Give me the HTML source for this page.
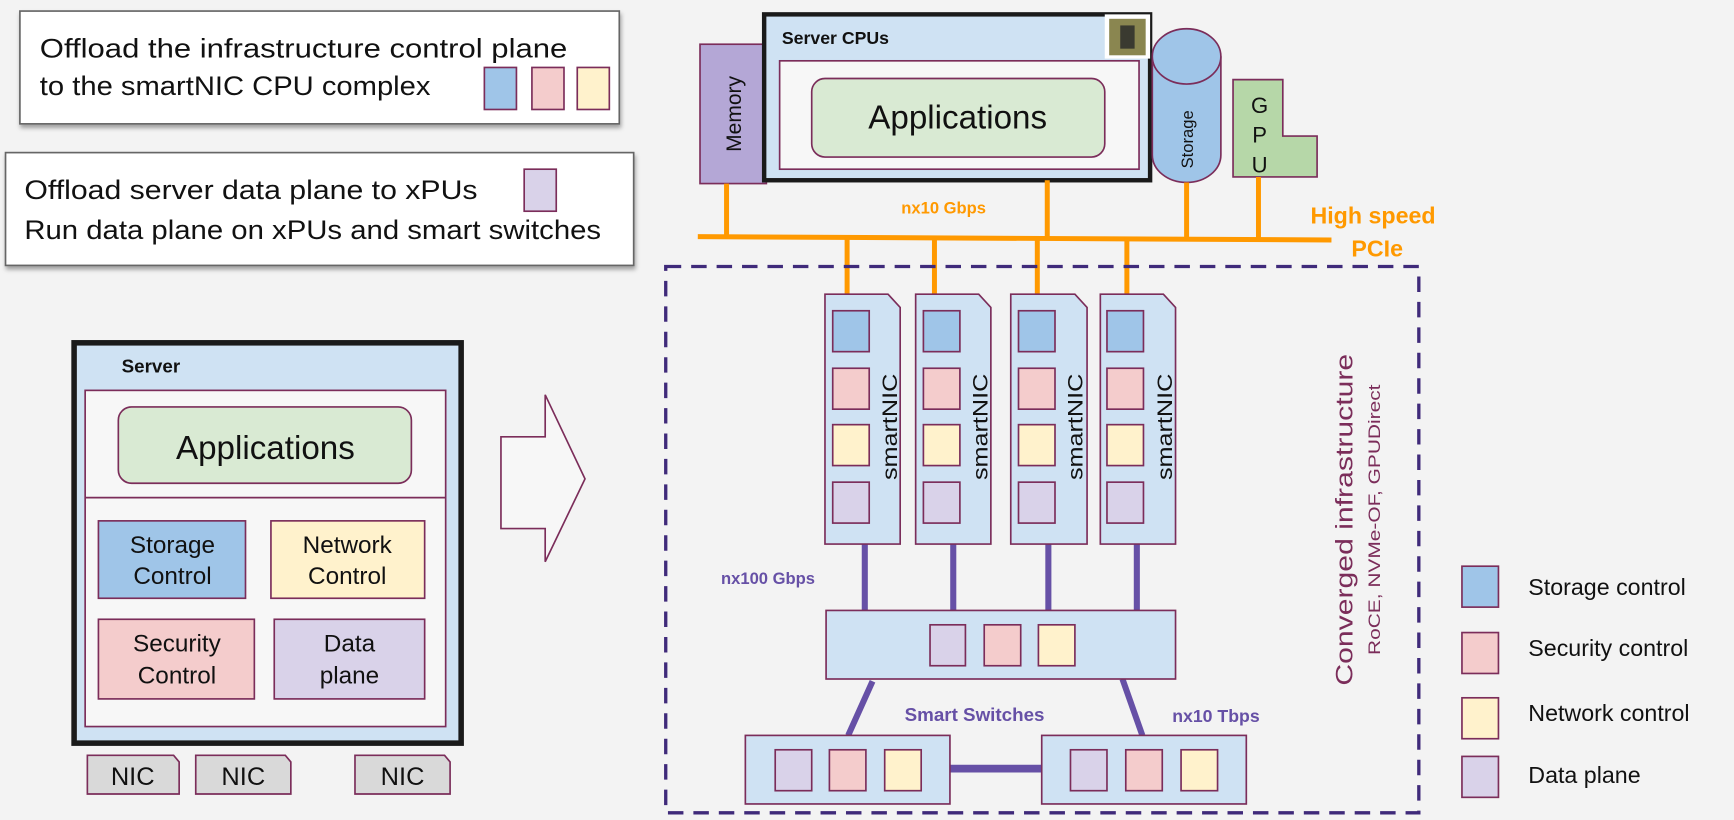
<!DOCTYPE html>
<html><head><meta charset="utf-8"><style>
html,body{margin:0;padding:0;background:#f3f3f3;}
svg{display:block;font-family:"Liberation Sans","DejaVu Sans",sans-serif;}
</style></head><body>
<svg width="1734" height="820" viewBox="0 0 1568 741.5" xmlns="http://www.w3.org/2000/svg">
<defs>
<filter id="sh" x="-5%" y="-5%" width="110%" height="120%"><feDropShadow dx="1" dy="3" stdDeviation="2" flood-color="#000" flood-opacity="0.35"/></filter>
</defs>
<rect width="1568" height="741.5" fill="#f3f3f3"/>
<g stroke="#7b2d5a" stroke-width="1.5">
<rect x="18" y="10" width="542" height="102" fill="#fff" stroke="#666" filter="url(#sh)"/>
<rect x="5" y="138" width="568" height="102" fill="#fff" stroke="#666" filter="url(#sh)"/>
<rect x="438" y="61" width="29" height="38" fill="#9fc5e8"/>
<rect x="481" y="61" width="29" height="38" fill="#f4cccc"/>
<rect x="522" y="61" width="29" height="38" fill="#fff2cc"/>
<rect x="474" y="153" width="29" height="38" fill="#d9d2e9"/>
</g>
<g font-size="24" fill="#111">
<text transform="translate(36,52) scale(1.17,1)">Offload the infrastructure control plane</text>
<text transform="translate(36,86) scale(1.1,1)">to the smartNIC CPU complex</text>
<text transform="translate(22,180) scale(1.14,1)">Offload server data plane to xPUs</text>
<text transform="translate(22,216) scale(1.105,1)">Run data plane on xPUs and smart switches</text>
</g>

<rect x="67" y="310" width="350" height="362" fill="#cfe2f3" stroke="#1a1a1a" stroke-width="5"/>
<text x="110" y="337" font-size="17" font-weight="bold" fill="#111">Server</text>
<g stroke="#7b2d5a" stroke-width="1.5">
<rect x="77" y="353" width="326" height="304" fill="#f7f7f7"/>
<line x1="77" y1="450" x2="403" y2="450"/>
<rect x="107" y="368" width="265" height="69" rx="12" fill="#d9ead3"/>
<rect x="89" y="471" width="133" height="70" fill="#9fc5e8"/>
<rect x="245" y="471" width="139" height="70" fill="#fff2cc"/>
<rect x="89" y="560" width="141" height="72" fill="#f4cccc"/>
<rect x="248" y="560" width="136" height="72" fill="#d9d2e9"/>
<path d="M79 683 H157 L162 689 V718 H79 Z" fill="#d9d9d9"/>
<path d="M177 683 H258 L263 689 V718 H177 Z" fill="#d9d9d9"/>
<path d="M321 683 H402 L407 689 V718 H321 Z" fill="#d9d9d9"/>
<path d="M453 395 H493 V357 L529 433 L493 508 V478 H453 Z" fill="#f7f7f7"/>
</g>
<g fill="#111" text-anchor="middle">
<text x="240" y="415" font-size="30">Applications</text>
<text x="156" y="500" font-size="22">Storage</text><text x="156" y="528" font-size="22">Control</text>
<text x="314" y="500" font-size="22">Network</text><text x="314" y="528" font-size="22">Control</text>
<text x="160" y="589" font-size="22">Security</text><text x="160" y="618" font-size="22">Control</text>
<text x="316" y="589" font-size="22">Data</text><text x="316" y="618" font-size="22">plane</text>
<text x="120" y="710" font-size="23">NIC</text>
<text x="220" y="710" font-size="23">NIC</text>
<text x="364" y="710" font-size="23">NIC</text>
</g>

<g stroke="#7b2d5a" stroke-width="1.5">
<rect x="633" y="40" width="60" height="126" fill="#b4a7d6"/>
</g>
<rect x="691" y="13" width="349" height="150" fill="#cfe2f3" stroke="#1a1a1a" stroke-width="4"/>
<text x="707" y="40" font-size="16" font-weight="bold" fill="#111">Server CPUs</text>
<rect x="705" y="55" width="325" height="98" fill="#f7f7f7" stroke="#7b2d5a" stroke-width="1.5"/>
<rect x="999" y="13" width="41" height="40" fill="#fff"/>
<rect x="1003" y="17" width="33" height="33" fill="#8a8650"/>
<rect x="1013" y="23" width="13" height="21" fill="#3a3a30"/>
<rect x="734" y="71" width="265" height="71" rx="12" fill="#d9ead3" stroke="#7b2d5a" stroke-width="1.5"/>
<text x="866" y="116" font-size="30" text-anchor="middle" fill="#111">Applications</text>
<text transform="translate(670,103) rotate(-90)" font-size="19" text-anchor="middle" fill="#111">Memory</text>
<g stroke="#7b2d5a" stroke-width="1.5">
<path d="M1042 51 V140 A31 25 0 0 0 1104 140 V51" fill="#9fc5e8"/>
<ellipse cx="1073" cy="51" rx="31" ry="25" fill="#9fc5e8"/>
<path d="M1115 72 H1160 V123 H1191 V160 H1115 Z" fill="#b6d7a8"/>
</g>
<text transform="translate(1079,126) rotate(-90)" font-size="15" text-anchor="middle" fill="#111">Storage</text>
<g font-size="20" text-anchor="middle" fill="#111">
<text x="1139" y="102">G</text><text x="1139" y="129">P</text><text x="1139" y="156">U</text>
</g>

<g stroke="#ff9900" stroke-width="4.5">
<line x1="631" y1="214" x2="1204" y2="217"/>
<line x1="657" y1="166" x2="657" y2="214"/>
<line x1="947" y1="163" x2="947" y2="215"/>
<line x1="1073" y1="165" x2="1073" y2="216"/>
<line x1="1138" y1="160" x2="1138" y2="216"/>
<line x1="766" y1="214" x2="766" y2="268"/>
<line x1="845" y1="215" x2="845" y2="268"/>
<line x1="938" y1="215" x2="938" y2="268"/>
<line x1="1019" y1="216" x2="1019" y2="268"/>
</g>
<g fill="#ff9900" font-weight="bold">
<text x="815" y="193" font-size="15">nx10 Gbps</text>
<text x="1185" y="202" font-size="21">High speed</text>
<text x="1222" y="232" font-size="21">PCIe</text>
</g>

<rect x="602" y="241" width="681" height="494" fill="none" stroke="#3f2a7a" stroke-width="3" stroke-dasharray="14 9"/>

<g stroke="#6650a6" stroke-width="5.5">
<line x1="782" y1="492" x2="782" y2="552"/>
<line x1="862" y1="492" x2="862" y2="552"/>
<line x1="948" y1="492" x2="948" y2="552"/>
<line x1="1028" y1="492" x2="1028" y2="552"/>
<line x1="789" y1="616" x2="767" y2="665"/>
<line x1="1015" y1="614" x2="1033" y2="665"/>
<line x1="859" y1="695" x2="942" y2="695" stroke-width="7"/>
</g>

<g stroke="#7b2d5a" stroke-width="1.5">
<path d="M746 266 H803 L814 278 V492 H746 Z" fill="#cfe2f3"/>
<path d="M828 266 H885 L896 278 V492 H828 Z" fill="#cfe2f3"/>
<path d="M914 266 H972 L983 278 V492 H914 Z" fill="#cfe2f3"/>
<path d="M995 266 H1052 L1063 278 V492 H995 Z" fill="#cfe2f3"/>
<g id="sq">
<rect x="753" y="281" width="33" height="37" fill="#9fc5e8"/>
<rect x="753" y="333" width="33" height="37" fill="#f4cccc"/>
<rect x="753" y="384" width="33" height="37" fill="#fff2cc"/>
<rect x="753" y="436" width="33" height="37" fill="#d9d2e9"/>
</g>
<use href="#sq" x="82"/>
<use href="#sq" x="168"/>
<use href="#sq" x="248"/>
<rect x="747" y="552" width="316" height="62" fill="#cfe2f3"/>
<rect x="841" y="565" width="32" height="37" fill="#d9d2e9"/>
<rect x="890" y="565" width="33" height="37" fill="#f4cccc"/>
<rect x="939" y="565" width="33" height="37" fill="#fff2cc"/>
<rect x="674" y="665" width="185" height="62" fill="#cfe2f3"/>
<rect x="701" y="678" width="33" height="37" fill="#d9d2e9"/>
<rect x="750" y="678" width="33" height="37" fill="#f4cccc"/>
<rect x="800" y="678" width="33" height="37" fill="#fff2cc"/>
<rect x="942" y="665" width="185" height="62" fill="#cfe2f3"/>
<rect x="968" y="678" width="33" height="37" fill="#d9d2e9"/>
<rect x="1018" y="678" width="33" height="37" fill="#f4cccc"/>
<rect x="1068" y="678" width="33" height="37" fill="#fff2cc"/>
</g>
<g font-size="19" fill="#111" text-anchor="middle">
<text transform="translate(811,386) rotate(-90) scale(1.2,1)">smartNIC</text>
<text transform="translate(893,386) rotate(-90) scale(1.2,1)">smartNIC</text>
<text transform="translate(979,386) rotate(-90) scale(1.2,1)">smartNIC</text>
<text transform="translate(1060,386) rotate(-90) scale(1.2,1)">smartNIC</text>
</g>
<g fill="#6650a6" font-weight="bold">
<text x="652" y="528" font-size="15">nx100 Gbps</text>
<text x="818" y="652" font-size="17">Smart Switches</text>
<text x="1060" y="653" font-size="16">nx10 Tbps</text>
</g>
<g fill="#7b2d5a" text-anchor="middle">
<text transform="translate(1223,470) rotate(-90) scale(1.24,1)" font-size="22">Converged infrastructure</text>
<text transform="translate(1248,470) rotate(-90) scale(1.26,1)" font-size="15">RoCE, NVMe-OF, GPUDirect</text>
</g>

<g stroke="#7b2d5a" stroke-width="1.5">
<rect x="1322" y="512" width="33" height="37" fill="#9fc5e8"/>
<rect x="1322" y="572" width="33" height="37" fill="#f4cccc"/>
<rect x="1322" y="631" width="33" height="37" fill="#fff2cc"/>
<rect x="1322" y="684" width="33" height="37" fill="#d9d2e9"/>
</g>
<g font-size="21" fill="#111">
<text x="1382" y="538">Storage control</text>
<text x="1382" y="593">Security control</text>
<text x="1382" y="652">Network control</text>
<text x="1382" y="708">Data plane</text>
</g>
</svg>
</body></html>
